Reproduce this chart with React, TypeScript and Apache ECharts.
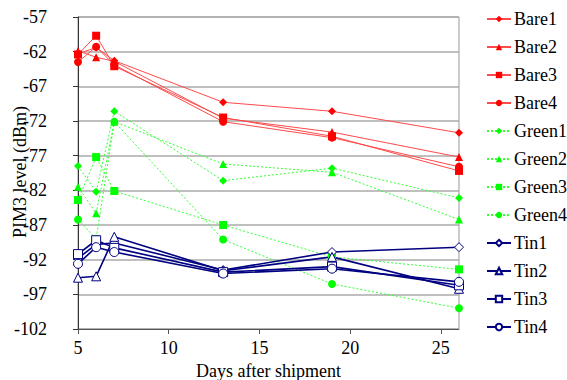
import React, { useEffect, useRef } from "react";
import * as echarts from "echarts";

const days = [5, 6, 7, 13, 19, 26];
const seriesNames = ["Bare1", "Bare2", "Bare3", "Bare4", "Green1", "Green2", "Green3", "Green4", "Tin1", "Tin2", "Tin3", "Tin4"];

const bare1 = [-62.3, -61.4, -63.3, -69.3, -70.6, -73.7];
const bare2 = [-61.9, -62.8, -63.4, -71.6, -73.6, -77.2];
const bare3 = [-62.4, -59.7, -64.1, -71.5, -74.2, -79.2];
const bare4 = [-63.5, -61.3, -63.9, -72.1, -74.4, -78.6];
const green1 = [-78.5, -82.2, -70.6, -80.6, -78.8, -83.1];
const green2 = [-81.5, -85.3, -72.1, -78.2, -79.4, -86.2];
const green3 = [-83.4, -77.2, -82.1, -87.0, -91.6, -93.4];
const green4 = [-86.2, -89.0, -72.1, -89.1, -95.5, -99.0];
const tin1 = [-91.8, -89.8, -89.6, -93.5, -90.9, -90.2];
const tin2 = [-94.6, -94.4, -88.7, -93.6, -91.6, -96.2];
const tin3 = [-91.2, -89.2, -90.3, -93.8, -93.0, -95.7];
const tin4 = [-92.6, -90.2, -90.9, -94.0, -93.3, -95.2];

const yTickLabels = ["-102", "-97", "-92", "-87", "-82", "-77", "-72", "-67", "-62", "-57"];
const xTickValues = [5, 10, 15, 20, 25];

const BASE = -102; // axis bottom value; values are plotted relative to it so ticks fall on -102, -97, ...

const FONT = "Liberation Serif";
const FS = 18;

export default function App() {
  const ref = useRef<HTMLDivElement>(null);
  useEffect(() => {
    if (!ref.current) return;
    const chart = echarts.init(ref.current, undefined, { renderer: "svg" });
    const all = [bare1, bare2, bare3, bare4, green1, green2, green3, green4, tin1, tin2, tin3, tin4];
    const symbols = ["diamond", "triangle", "rect", "circle"];
    const series = all.map((vals, i) => {
      const group = Math.floor(i / 4);
      const sym = symbols[i % 4];
      const data = vals.map((v, j) => [days[j], v - BASE]);
      if (group === 0) {
        return {
          name: seriesNames[i], type: "line", data, symbol: sym, symbolSize: 8,
          itemStyle: { color: "#ff0000" },
          lineStyle: { color: "#ff4a4a", width: 1 },
        };
      } else if (group === 1) {
        return {
          name: seriesNames[i], type: "line", data, symbol: sym, symbolSize: 8,
          itemStyle: { color: "#00ff00" },
          lineStyle: { color: "#33ff33", width: 1, type: [2, 2] },
        };
      }
      return {
        name: seriesNames[i], type: "line", data, symbol: sym, symbolSize: 9,
        itemStyle: { color: "#ffffff", borderColor: "#000080", borderWidth: 1 },
        lineStyle: { color: "#000080", width: 1.6 },
      };
    });
    chart.setOption({
      animation: false,
      textStyle: { fontFamily: FONT },
      grid: {
        left: 78, right: 108, top: 17, bottom: 51, show: true, borderColor: "#999999", borderWidth: 1,
        containLabel: false, outerBoundsMode: "none",
      },
      legend: {
        data: seriesNames,
        orient: "vertical",
        left: 486,
        top: 10,
        padding: 0,
        itemWidth: 24,
        itemHeight: 8,
        itemGap: 10,
        textStyle: { fontSize: FS, fontFamily: FONT, color: "#000", padding: [0, 0, 0, -2] },
      },
      graphic: [
        {
          type: "text",
          x: 20,
          y: 172,
          rotation: Math.PI / 2,
          style: {
            text: "PIM3 level (dBm)",
            fontSize: FS,
            fontFamily: FONT,
            fill: "#000",
            align: "center",
            verticalAlign: "middle",
          },
        },
      ],
      xAxis: {
        type: "value",
        min: 5,
        max: 26,
        interval: 5,
        name: "Days after shipment",
        nameLocation: "middle",
        nameGap: 33,
        nameTextStyle: { fontSize: FS, fontFamily: FONT, color: "#000" },
        axisLine: { lineStyle: { color: "#555", width: 1 } },
        axisTick: { show: true, length: 5, inside: false, lineStyle: { color: "#555" }, customValues: xTickValues },
        axisLabel: { fontSize: FS, fontFamily: FONT, color: "#000", margin: 10, customValues: xTickValues },
        splitLine: { show: false },
      },
      yAxis: {
        type: "value",
        min: 0,
        max: 45,
        interval: 5,
        axisLine: { show: true, lineStyle: { color: "#333", width: 1 } },
        axisTick: { show: true, length: 5, lineStyle: { color: "#333" } },
        axisLabel: {
          fontSize: FS, fontFamily: FONT, color: "#000", margin: 31,
          formatter: (v: number) => yTickLabels[Math.round(v / 5)] ?? String(v + BASE),
        },
        splitLine: { show: true, lineStyle: { color: "#aaaaaa", width: 1.5 } },
      },
      series,
    });
    return () => chart.dispose();
  }, []);
  return <div ref={ref} style={{ width: 567, height: 380, position: "absolute", left: 0, top: 0 }} />;
}
